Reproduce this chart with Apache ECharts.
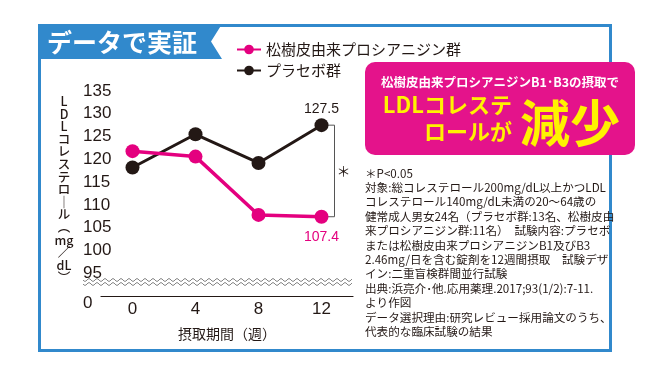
<!DOCTYPE html>
<html><head><meta charset="utf-8">
<script src="https://cdn.jsdelivr.net/npm/echarts@6/dist/echarts.min.js"></script>
<style>html,body{margin:0;padding:0;background:#fff}#c{width:650px;height:367px}</style>
</head><body><div id="c"></div>
<script>
// ---- data ----
const weeks = ['0', '4', '8', '12'];
const procyanidinName = '松樹皮由来プロシアニジン群';
const placeboName = 'プラセボ群';
const procyanidinValues = [121.8, 120.6, 107.8, 107.4];
const placeboValues = [118.2, 125.5, 119.2, 127.5];
const yMin = 90, yMax = 135, yStep = 5; // 90 is drawn as the broken-axis "0"
const xAxisName = '摂取期間（週）';
const yAxisNameChars = ['L','D','L','コ','レ','ス','テ','ロ','｜','ル','︵','mg','／','dL','︶'];
const titleText = 'データで実証';
const bannerLine1 = '松樹皮由来プロシアニジンB1･B3の摂取で';
const bannerLine2 = 'LDLコレステ';
const bannerLine3 = 'ロールが';
const bannerBig = '減少';
const sigMark = '＊';
const notes = [
  '＊P<0.05',
  '対象:総コレステロール200mg/dL以上かつLDL',
  'コレステロール140mg/dL未満の20〜64歳の',
  '健常成人男女24名（プラセボ群:13名、松樹皮由',
  '来プロシアニジン群:11名）　試験内容:プラセボ',
  'または松樹皮由来プロシアニジンB1及びB3',
  '2.46mg/日を含む錠剤を12週間摂取　試験デザ',
  'イン:二重盲検群間並行試験',
  '出典:浜亮介･他.応用薬理.2017;93(1/2):7-11.',
  'より作図',
  'データ選択理由:研究レビュー採用論文のうち、',
  '代表的な臨床試験の結果'
];

const PINK = '#e4007f', BLACK = '#231815', BLUE = '#3189cc', YELLOW = '#fff200';
const FONT = '"Noto Sans CJK JP", sans-serif';
const NUMFONT = '"Liberation Sans", "Noto Sans CJK JP", sans-serif';

const chart = echarts.init(document.getElementById('c'), null, {renderer: 'canvas'});

function lastLabel(values, color, pos, dist) {
  return values.map((v, i) => i === values.length - 1 ? {
    value: v,
    label: {show: true, position: pos, distance: dist, color: color, fontSize: 14, fontFamily: NUMFONT, formatter: String(v)}
  } : v);
}

const option = {
  animation: false,
  backgroundColor: '#fff',
  textStyle: {fontFamily: FONT},
  grid: {left: 101, width: 252, top: 91, height: 205},
  legend: {
    orient: 'vertical', left: 231, top: 37, itemGap: 6,
    itemWidth: 24, itemHeight: 12,
    data: [procyanidinName, placeboName],
    textStyle: {fontSize: 15, color: BLACK, fontFamily: FONT}
  },
  xAxis: {
    type: 'category', data: weeks, boundaryGap: true,
    axisLine: {lineStyle: {color: BLACK, width: 1.2}},
    axisTick: {show: false},
    axisLabel: {fontSize: 17, color: BLACK, margin: 5, fontFamily: NUMFONT},
    name: xAxisName, nameLocation: 'middle', nameGap: 31,
    nameTextStyle: {fontSize: 14, color: BLACK, fontFamily: FONT}
  },
  yAxis: {
    type: 'value', min: yMin, max: yMax, interval: yStep,
    axisLine: {show: false}, axisTick: {show: false}, splitLine: {show: false},
    axisLabel: {
      align: 'left', margin: 18, fontSize: 17, color: BLACK, fontFamily: NUMFONT,
      formatter: v => v === yMin ? '{z|0}' : String(v),
      rich: {z: {fontSize: 17, color: BLACK, fontFamily: NUMFONT, padding: [15, 0, 0, 0]}}
    }
  },
  series: [
    {
      name: placeboName, type: 'line', data: lastLabel(placeboValues, BLACK, 'top', 2),
      symbol: 'circle', symbolSize: 14,
      lineStyle: {color: BLACK, width: 3}, itemStyle: {color: BLACK}, z: 3
    },
    {
      name: procyanidinName, type: 'line', data: lastLabel(procyanidinValues, PINK, 'bottom', 6),
      symbol: 'circle', symbolSize: 14,
      lineStyle: {color: PINK, width: 3.5}, itemStyle: {color: PINK}, z: 4
    }
  ]
};
chart.setOption(option);

// decorations
const wave = (y0) => {
  const pts = [];
  for (let x = 83; x <= 352; x += 1) pts.push([x, y0 + 1.4 * Math.sin((x - 83) / 8 * 2 * Math.PI)]);
  return pts;
};
const pB = chart.convertToPixel({seriesIndex: 0}, [3, placeboValues[3]]);
const pP = chart.convertToPixel({seriesIndex: 1}, [3, procyanidinValues[3]]);
const bx = pB[0] + 13;

const graphic = [
  {type: 'rect', shape: {x: 39.5, y: 25.5, width: 571, height: 325}, style: {fill: 'none', stroke: BLUE, lineWidth: 3}, z: 0},
  {type: 'polygon', shape: {points: [[38, 24], [222, 24], [211, 41.5], [222, 59], [38, 59]]}, style: {fill: BLUE}, z: 1},
  {type: 'text', x: 47, y: 42, style: {text: titleText, fill: '#fff', font: 'bold 25px ' + FONT, textVerticalAlign: 'middle'}, z: 2},
  {type: 'text', x: 64, y: 95, style: {text: yAxisNameChars.join('\n'), fill: BLACK, font: '500 12.5px ' + FONT, lineHeight: 12.6, textAlign: 'center'}, z: 2},
  {type: 'polyline', shape: {points: wave(280)}, style: {stroke: '#666', lineWidth: 0.8, fill: 'none'}, z: 2},
  {type: 'polyline', shape: {points: wave(284)}, style: {stroke: '#666', lineWidth: 0.8, fill: 'none'}, z: 2},
  {type: 'polyline', shape: {points: [[pB[0], pB[1]], [bx, pB[1]], [bx, pP[1]], [pP[0], pP[1]]]}, style: {stroke: '#555', lineWidth: 1, fill: 'none'}, z: 1},
  {type: 'text', x: bx + 9, y: (pB[1] + pP[1]) / 2, style: {text: sigMark, fill: BLACK, font: '14px ' + FONT, textAlign: 'center', textVerticalAlign: 'middle'}, z: 2},
  {type: 'rect', shape: {x: 365, y: 62, width: 270, height: 93, r: 10}, style: {fill: '#e4138b'}, z: 3},
  {type: 'text', x: 500, y: 82, style: {text: bannerLine1, fill: '#fff', font: 'bold 12.5px ' + FONT, textAlign: 'center', textVerticalAlign: 'middle'}, z: 4},
  {type: 'text', x: 512, y: 105, style: {text: bannerLine2, fill: YELLOW, font: 'bold 22px ' + FONT, textAlign: 'right', textVerticalAlign: 'middle'}, z: 4},
  {type: 'text', x: 512, y: 132, style: {text: bannerLine3, fill: YELLOW, font: 'bold 22px ' + FONT, textAlign: 'right', textVerticalAlign: 'middle'}, z: 4},
  {type: 'text', x: 570, y: 123, style: {text: bannerBig, fill: YELLOW, font: 'bold 50px ' + FONT, textAlign: 'center', textVerticalAlign: 'middle'}, z: 4},
  {type: 'text', x: 365, y: 166, style: {text: notes.join('\n'), fill: BLACK, font: '11.6px ' + FONT, lineHeight: 14.4}, z: 2}
];
chart.setOption({graphic: graphic});
</script>
</body></html>
